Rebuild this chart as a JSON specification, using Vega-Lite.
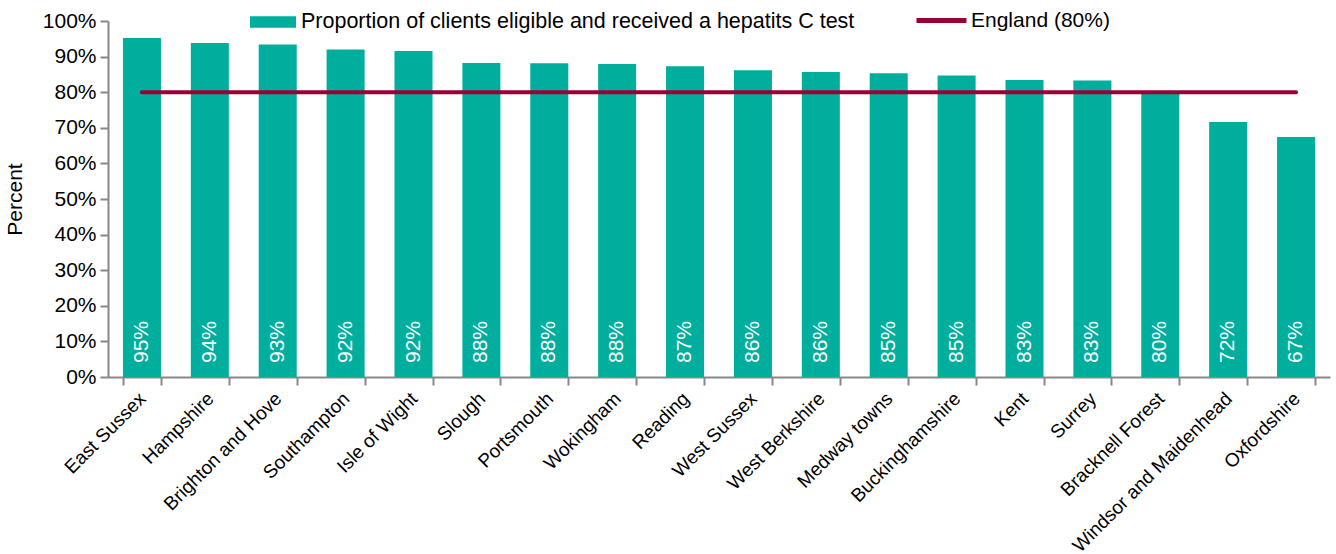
{
  "$schema": "https://vega.github.io/schema/vega-lite/v6.json",
  "width": 1222,
  "height": 356,
  "autosize": {"type": "none"},
  "padding": {"left": 108, "top": 21, "right": 6, "bottom": 177},
  "config": {
    "font": "Liberation Sans",
    "view": {"stroke": null},
    "axis": {"labelColor": "#000000", "titleColor": "#000000", "domainColor": "#888888", "tickColor": "#888888", "domainWidth": 2, "tickWidth": 2, "grid": false},
    "axisY": {"labelFontSize": 21, "titleFontSize": 21, "labelOverlap": false, "tickSize": 8, "labelPadding": 4, "titlePadding": 17, "titleFontWeight": "normal", "format": ".0%"}
  },
  "data": {
    "values": [
      {"region": "East Sussex", "value": 0.952},
      {"region": "Hampshire", "value": 0.938},
      {"region": "Brighton and Hove", "value": 0.934},
      {"region": "Southampton", "value": 0.920},
      {"region": "Isle of Wight", "value": 0.916},
      {"region": "Slough", "value": 0.882},
      {"region": "Portsmouth", "value": 0.881},
      {"region": "Wokingham", "value": 0.879},
      {"region": "Reading", "value": 0.873},
      {"region": "West Sussex", "value": 0.862},
      {"region": "West Berkshire", "value": 0.857},
      {"region": "Medway towns", "value": 0.853},
      {"region": "Buckinghamshire", "value": 0.847},
      {"region": "Kent", "value": 0.834},
      {"region": "Surrey", "value": 0.833},
      {"region": "Bracknell Forest", "value": 0.801},
      {"region": "Windsor and Maidenhead", "value": 0.716},
      {"region": "Oxfordshire", "value": 0.674}
    ]
  },
  "encoding": {
    "x": {
      "field": "region",
      "type": "nominal",
      "sort": null,
      "scale": {"paddingInner": 0.44, "paddingOuter": 0.22},
      "axis": {"title": null, "labelAngle": -45, "labelAlign": "right", "labelBaseline": "top", "labelFontSize": 19, "labelLimit": 0, "labelOverlap": false, "tickBand": "extent", "tickSize": 8, "labelPadding": 4, "labelOffset": -6}
    }
  },
  "layer": [
    {
      "mark": {"type": "bar"},
      "encoding": {
        "y": {
          "field": "value",
          "type": "quantitative",
          "scale": {"domain": [0, 1], "nice": false},
          "axis": {"values": [0, 0.1, 0.2, 0.3, 0.4, 0.5, 0.6, 0.7, 0.8, 0.9, 1], "format": ".0%", "labelOverlap": false, "title": "Percent"}
        },
        "fill": {
          "datum": "Proportion of clients eligible and received a hepatits C test",
          "scale": {"range": ["#00AE9D"]},
          "legend": {"title": null, "orient": "none", "legendX": 142, "legendY": -22, "symbolType": "M-1,-0.25H1V0.25H-1Z", "symbolSize": 2116, "labelFontSize": 21.5, "labelLimit": 0, "labelColor": "#000000", "labelOffset": 5, "symbolStrokeWidth": 0}
        }
      }
    },
    {
      "mark": {"type": "text", "angle": 270, "align": "left", "baseline": "middle", "dx": 14, "color": "#ffffff", "fontSize": 21},
      "encoding": {
        "y": {"datum": 0, "type": "quantitative", "axis": {"values": [0, 0.1, 0.2, 0.3, 0.4, 0.5, 0.6, 0.7, 0.8, 0.9, 1], "format": ".0%", "labelOverlap": false, "title": "Percent"}},
        "text": {"field": "value", "type": "quantitative", "format": ".0%"}
      }
    },
    {
      "mark": {"type": "line", "strokeWidth": 4, "strokeCap": "round"},
      "encoding": {
        "y": {"datum": 0.8, "type": "quantitative", "axis": {"values": [0, 0.1, 0.2, 0.3, 0.4, 0.5, 0.6, 0.7, 0.8, 0.9, 1], "format": ".0%", "labelOverlap": false, "title": "Percent"}},
        "stroke": {
          "datum": "England (80%)",
          "scale": {"range": ["#990033"]},
          "legend": {"title": null, "orient": "none", "legendX": 806, "legendY": -28, "symbolType": "stroke", "symbolSize": 2500, "symbolStrokeWidth": 5, "labelFontSize": 21, "labelLimit": 0, "labelColor": "#000000", "labelOffset": 2}
        }
      }
    }
  ]
}
